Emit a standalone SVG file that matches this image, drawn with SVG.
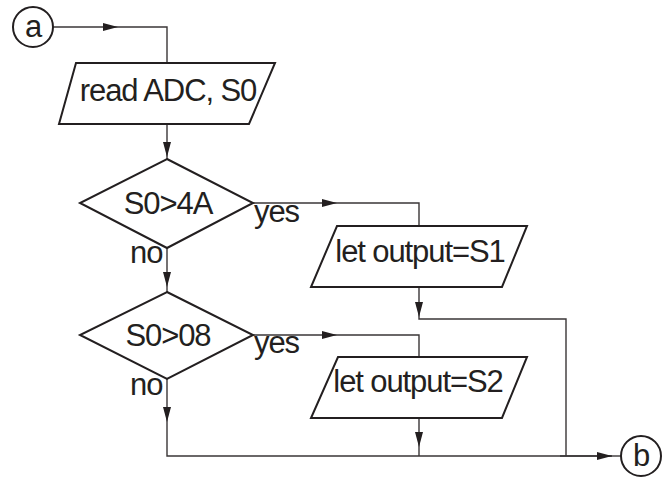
<svg xmlns="http://www.w3.org/2000/svg" width="663" height="477" viewBox="0 0 663 477">
  <style>
    .shape { fill: #ffffff; stroke: #231f20; stroke-width: 2; stroke-linejoin: miter; }
    .conn { fill: none; stroke: #3a3637; stroke-width: 1.4; }
    .lbl { font-family: "Liberation Sans", Arial, sans-serif; font-size: 31px; letter-spacing: -1.1px; fill: #231f20; }
    .mid { text-anchor: middle; }
  </style>
  <defs>
    <marker id="arrow" markerUnits="userSpaceOnUse" markerWidth="16" markerHeight="10" refX="15" refY="4" orient="auto">
      <path d="M0,0 L15,4 L0,8 z" fill="#231f20"/>
    </marker>
  </defs>
  <rect width="663" height="477" fill="#ffffff"/>

  <!-- connectors -->
  <g id="connectors">
    <!-- a -> read -->
    <line class="conn" x1="53" y1="27" x2="118" y2="27" marker-end="url(#arrow)"/>
    <polyline class="conn" points="118,27 167,27 167,63"/>
    <!-- read -> S0>4A -->
    <line class="conn" x1="167" y1="124" x2="167" y2="157" marker-end="url(#arrow)"/>
    <line class="conn" x1="167" y1="157" x2="167" y2="159"/>
    <!-- S0>4A no -> S0>08 -->
    <line class="conn" x1="167" y1="248" x2="167" y2="287" marker-end="url(#arrow)"/>
    <line class="conn" x1="167" y1="287" x2="167" y2="292"/>
    <!-- S0>4A yes -> S1 -->
    <line class="conn" x1="253" y1="203" x2="337" y2="203" marker-end="url(#arrow)"/>
    <polyline class="conn" points="337,203 419,203 419,226"/>
    <!-- S1 -> b -->
    <line class="conn" x1="419" y1="287" x2="419" y2="317" marker-end="url(#arrow)"/>
    <polyline class="conn" points="419,317 419,319 566,319 566,456"/>
    <!-- S0>08 yes -> S2 -->
    <line class="conn" x1="253" y1="335" x2="337" y2="335" marker-end="url(#arrow)"/>
    <polyline class="conn" points="337,335 419,335 419,357"/>
    <!-- S0>08 no -> b -->
    <line class="conn" x1="167" y1="379" x2="167" y2="422" marker-end="url(#arrow)"/>
    <polyline class="conn" points="167,422 167,456 612,456"/>
    <!-- S2 -> b -->
    <line class="conn" x1="419" y1="418" x2="419" y2="447" marker-end="url(#arrow)"/>
    <line class="conn" x1="419" y1="447" x2="419" y2="456"/>
    <!-- into b -->
    <line class="conn" x1="560" y1="456" x2="612" y2="456" marker-end="url(#arrow)"/>
    <line class="conn" x1="612" y1="456" x2="621" y2="456"/>
  </g>

  <g id="a">
    <circle class="shape" cx="33" cy="27" r="20"/>
    <text class="lbl mid" x="33" y="37">a</text>
  </g>

  <g id="read">
    <polygon class="shape" points="76,63 275,63 249,124 59,124"/>
    <text class="lbl mid" x="168" y="101">read ADC, S0</text>
  </g>

  <g id="dec1">
    <polygon class="shape" points="167,159 253,203 167,248 80,203"/>
    <text class="lbl mid" x="168" y="214">S0&gt;4A</text>
    <text class="lbl" x="254" y="222">yes</text>
    <text class="lbl" x="130" y="263">no</text>
  </g>

  <g id="out1">
    <polygon class="shape" points="337,226 527,226 502,287 311,287"/>
    <text class="lbl mid" x="420" y="262">let output=S1</text>
  </g>

  <g id="dec2">
    <polygon class="shape" points="167,292 253,335 167,379 80,335"/>
    <text class="lbl mid" x="168" y="346">S0&gt;08</text>
    <text class="lbl" x="254" y="353">yes</text>
    <text class="lbl" x="130" y="395">no</text>
  </g>

  <g id="out2">
    <polygon class="shape" points="338,357 527,357 502,418 311,418"/>
    <text class="lbl mid" x="418" y="392">let output=S2</text>
  </g>

  <g id="b">
    <circle class="shape" cx="641" cy="456" r="20"/>
    <text class="lbl mid" x="641" y="466">b</text>
  </g>
</svg>
